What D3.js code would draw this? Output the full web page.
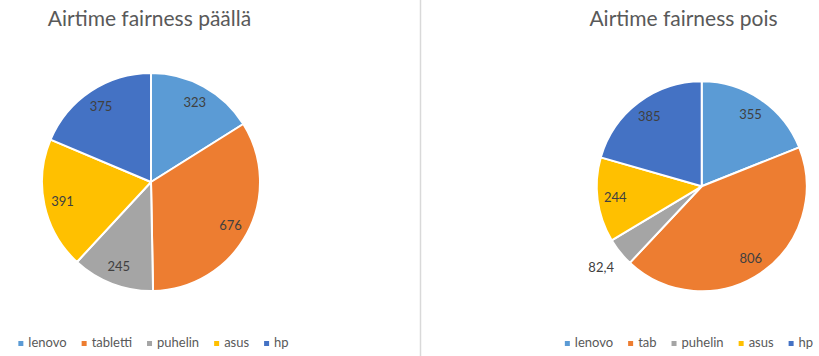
<!DOCTYPE html>
<html>
<head>
<meta charset="utf-8">
<script src="https://cdn.jsdelivr.net/npm/d3@7"></script>
<style>
  html, body { margin: 0; padding: 0; background: #ffffff; }
  svg { display: block; }
  text { font-family: Lato, "Liberation Sans", sans-serif; }
</style>
</head>
<body>
<svg id="chart" width="819" height="356"></svg>
<script>
// Left chart: airtime fairness on
const titleLeft = "Airtime fairness päällä";
const categoriesLeft = ["lenovo", "tabletti", "puhelin", "asus", "hp"];
const valuesLeft = [323, 676, 245, 391, 375];

// Right chart: airtime fairness off
const titleRight = "Airtime fairness pois";
const categoriesRight = ["lenovo", "tab", "puhelin", "asus", "hp"];
const valuesRight = [355, 806, 82.4, 244, 385];

const palette = ["#5B9BD5", "#ED7D31", "#A5A5A5", "#FFC000", "#4472C4"];

const svg = d3.select("#chart");

// Finnish number format: decimal comma
const fmt = v => String(v).replace(".", ",");

function drawPie(opts) {
  const { title, categories, values, cx, cy, r, titleX, legendCx } = opts;
  const g = svg.append("g");

  g.append("text")
    .attr("x", titleX).attr("y", 26)
    .attr("text-anchor", "middle")
    .attr("font-size", 21)
    .attr("fill", "#595959")
    .text(title);

  const color = d3.scaleOrdinal().domain(categories).range(palette);
  const data = categories.map((c, i) => ({ cat: c, value: values[i] }));
  const total = d3.sum(values);

  const pie = d3.pie().sort(null).value(d => d.value);
  const arcs = pie(data);
  const arc = d3.arc().innerRadius(0).outerRadius(r);
  const inner = d3.arc().innerRadius(r * 0.83).outerRadius(r * 0.83);
  const outer = d3.arc().innerRadius(r * 1.23).outerRadius(r * 1.23);

  const pg = g.append("g").attr("transform", `translate(${cx},${cy})`);
  pg.selectAll("path.slice")
    .data(arcs)
    .join("path")
    .attr("class", "slice")
    .attr("d", arc)
    .attr("fill", d => color(d.data.cat))
    .attr("stroke", "#ffffff")
    .attr("stroke-width", 2)
    .attr("stroke-linejoin", "round");

  pg.selectAll("text.lbl")
    .data(arcs)
    .join("text")
    .attr("class", "lbl")
    .attr("transform", d => {
      const small = d.data.value / total < 0.06;
      const c = (small ? outer : inner).centroid(d);
      return `translate(${c[0]},${c[1]})`;
    })
    .attr("text-anchor", "middle")
    .attr("dy", "0.35em")
    .attr("font-size", 13)
    .attr("fill", "#404040")
    .text(d => fmt(d.data.value));

  // Legend along the bottom, centred
  const lg = g.append("g");
  const items = lg.selectAll("g.item")
    .data(categories)
    .join("g")
    .attr("class", "item");
  items.append("rect")
    .attr("width", 5).attr("height", 5)
    .attr("y", 341)
    .attr("fill", d => color(d));
  items.append("text")
    .attr("x", 10).attr("y", 347)
    .attr("font-size", 13)
    .attr("fill", "#595959")
    .text(d => d);
  let x = 0;
  const gap = 15;
  items.each(function () {
    const w = 10 + d3.select(this).select("text").node().getComputedTextLength();
    d3.select(this).attr("transform", `translate(${x},0)`);
    x += w + gap;
  });
  const totalW = x - gap;
  lg.attr("transform", `translate(${legendCx - totalW / 2},0)`);
}

drawPie({
  title: titleLeft, categories: categoriesLeft, values: valuesLeft,
  cx: 151, cy: 182, r: 109, titleX: 149.5, legendCx: 153.5
});
drawPie({
  title: titleRight, categories: categoriesRight, values: valuesRight,
  cx: 701.7, cy: 186.3, r: 105, titleX: 683.5, legendCx: 689
});

// Divider between the two charts
svg.append("line")
  .attr("x1", 420.5).attr("x2", 420.5)
  .attr("y1", 0).attr("y2", 356)
  .attr("stroke", "#d9d9d9")
  .attr("stroke-width", 1.5);
</script>
</body>
</html>
